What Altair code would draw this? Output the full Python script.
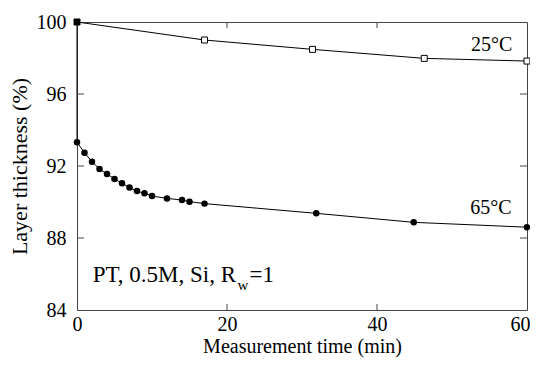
import altair as alt
import pandas as pd

# 25 °C series
t25 = [0, 17.0, 31.4, 46.3, 60.0]
y25 = [100.0, 99.0, 98.48, 97.98, 97.83]

# 65 °C series (starts at 100 % at t=0, first measured point 93.3 %)
t65 = [0, 0, 1, 2, 3, 4, 5, 6, 7, 8, 9, 10, 12, 14, 15, 17, 31.9, 44.9, 60.0]
y65 = [100.0, 93.32, 92.74, 92.24, 91.83, 91.56, 91.28, 91.04, 90.8, 90.61,
       90.48, 90.33, 90.2, 90.11, 90.02, 89.91, 89.37, 88.87, 88.6]
m65 = [False] + [True] * 18

x_ticks = [20, 40]
y_ticks = [96, 92, 88]
x_labels = [0, 20, 40, 60]
y_labels = [84, 88, 92, 96, 100]

FONT = "Liberation Serif"

d25 = pd.DataFrame({"t": t25, "y": y25, "first": [i == 0 for i in range(len(t25))]})
d65 = pd.DataFrame({"t": t65, "y": y65, "m": m65})

xs = alt.Scale(domain=[0, 60], nice=False, zero=False)
ys = alt.Scale(domain=[84, 100], nice=False, zero=False)

X = alt.X("t:Q", scale=xs,
          axis=alt.Axis(values=x_labels, title="Measurement time (min)", ticks=False,
                        domain=False, grid=False, labelFont=FONT, labelFontSize=20,
                        labelPadding=4, labelFlush=False,
                        labelAlign={"condition": {"test": "datum.value === 60", "value": "right"},
                                    "value": "center"},
                        labelOffset={"condition": {"test": "datum.value === 60", "value": 3},
                                     "value": 0},
                        titleFont=FONT, titleFontSize=20,
                        titleFontWeight="normal", titlePadding=2, labelColor="black",
                        titleColor="black"))
Y = alt.Y("y:Q", scale=ys,
          axis=alt.Axis(values=y_labels, title="Layer thickness (%)", ticks=False,
                        domain=False, grid=False, labelFont=FONT, labelFontSize=20,
                        labelPadding=11, labelFlush=False, titleFont=FONT, titleFontSize=22,
                        titleFontWeight="normal", titlePadding=5, labelColor="black",
                        titleColor="black"))

base25 = alt.Chart(d25)
line25 = base25.mark_line(color="black", strokeWidth=1).encode(x=X, y=Y)
pts25 = base25.mark_point(shape="square", size=36, strokeWidth=1, color="black", opacity=1).encode(
    x="t:Q", y="y:Q",
    fill=alt.condition("datum.first", alt.value("black"), alt.value("white")))

base65 = alt.Chart(d65)
line65 = base65.mark_line(color="black", strokeWidth=1).encode(x="t:Q", y="y:Q")
pts65 = base65.transform_filter("datum.m").mark_circle(size=42, color="black", opacity=1).encode(
    x="t:Q", y="y:Q")

# inward ticks
dxt = pd.DataFrame({"t": x_ticks})
dyt = pd.DataFrame({"y": y_ticks})
xt_bot = alt.Chart(dxt).mark_rule(color="#444", strokeWidth=1).encode(
    x="t:Q", y=alt.value(288), y2=alt.value(282))
xt_top = alt.Chart(dxt).mark_rule(color="#444", strokeWidth=1).encode(
    x="t:Q", y=alt.value(0), y2=alt.value(6))
yt_left = alt.Chart(dyt).mark_rule(color="#444", strokeWidth=1).encode(
    y="y:Q", x=alt.value(0), x2=alt.value(7))
yt_right = alt.Chart(dyt).mark_rule(color="#444", strokeWidth=1).encode(
    y="y:Q", x=alt.value(450), x2=alt.value(443))

# annotations
ann = pd.DataFrame({
    "t": [55.3, 55.2, 21.2, 21.4, 23.0],
    "y": [98.7, 89.67, 85.95, 85.4, 85.95],
    "txt": ["25°C", "65°C", "PT, 0.5M, Si, R", "w", "=1"],
    "size": [20, 20, 23, 15, 23],
    "align": ["center", "center", "right", "left", "left"],
})
texts = []
for i, r in ann.iterrows():
    texts.append(alt.Chart(ann.iloc[[i]]).mark_text(
        font=FONT, fontSize=int(r["size"]), align=r["align"], baseline="middle",
        color="black").encode(x="t:Q", y="y:Q", text="txt:N"))

chart = alt.layer(line25, line65, pts25, pts65, xt_bot, xt_top, yt_left, yt_right, *texts).properties(
    width=450, height=288,
    padding={"left": 69, "top": 14, "right": 3, "bottom": 50},
    autosize=alt.AutoSizeParams(type="none"),
    background="white",
).configure_view(stroke="#444", strokeWidth=1)

chart.save("out.html", embed_options={"renderer": "svg", "actions": False})
